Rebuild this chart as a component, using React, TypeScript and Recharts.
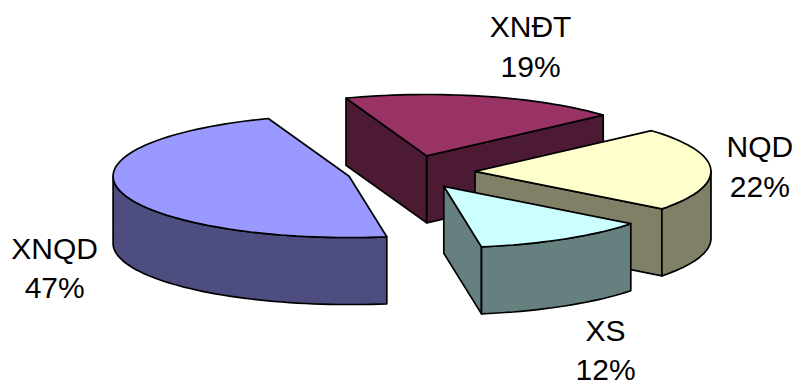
import { PieChart, Pie, Cell } from "recharts";

const names = ["XNĐT", "NQD", "XS", "XNQD"];
const shares = [19, 22, 12, 47];
const topColors = ["#993366", "#FFFFCC", "#CCFFFF", "#9999FF"];
const sideColors = ["#4D1A33", "#808066", "#668080", "#4D4D80"];
// nudge of each label from its slice's rim point at the mid angle
const labelShift = [[46, -59], [49, -12], [41, 102], [-66, 67]];

const data = names.map((name, i) => ({ name, value: shares[i] }));

const TILT = 0.26; // squash of the pie plane
const DEPTH = 67; // wall height
const EXPLODE = 64;
const RAD = Math.PI / 180;

type P = [number, number];

const rim = (x: number, y: number, r: number, deg: number, z = 0): P => [
  x + r * Math.cos(deg * RAD),
  y - TILT * r * Math.sin(deg * RAD) + z,
];

const toPath = (pts: P[]) =>
  pts.map((p, i) => `${i ? "L" : "M"}${p[0].toFixed(1)},${p[1].toFixed(1)}`).join("") + "Z";

const arcPts = (x: number, y: number, r: number, from: number, to: number, z: number): P[] => {
  const n = Math.max(2, Math.ceil(Math.abs(to - from) / 2));
  const out: P[] = [];
  for (let k = 0; k <= n; k++) out.push(rim(x, y, r, from + ((to - from) * k) / n, z));
  return out;
};

const indexOf = (props: any) => {
  const nm = props.name ?? props.payload?.name ?? props.payload?.payload?.name;
  const i = names.indexOf(nm);
  return i >= 0 ? i : props.index ?? 0;
};

function Slice3D(props: any) {
  const { cx, cy, outerRadius: r, startAngle, endAngle } = props;
  const i = indexOf(props);
  const a1 = Math.min(startAngle, endAngle);
  const a2 = Math.max(startAngle, endAngle);
  const m = props.midAngle ?? (a1 + a2) / 2;
  const ex = cx + EXPLODE * Math.cos(m * RAD);
  const ey = cy - TILT * EXPLODE * Math.sin(m * RAD);
  const side = sideColors[i];
  const faces: string[] = [];

  const cut = (a: number) =>
    toPath([[ex, ey], rim(ex, ey, r, a), rim(ex, ey, r, a, DEPTH), [ex, ey + DEPTH]]);
  if (Math.cos(a2 * RAD) < 0) faces.push(cut(a2));
  if (Math.cos(a1 * RAD) > 0) faces.push(cut(a1));

  for (let n = -2; n <= 1; n++) {
    const lo = Math.max(a1, 180 + 360 * n);
    const hi = Math.min(a2, 360 + 360 * n);
    if (hi > lo) {
      const topArc = arcPts(ex, ey, r, lo, hi, 0);
      const botArc = arcPts(ex, ey, r, hi, lo, DEPTH);
      faces.push(toPath([...topArc, ...botArc]));
    }
  }

  const top = toPath([[ex, ey], ...arcPts(ex, ey, r, a1, a2, 0)]);

  return (
    <g>
      {faces.map((d, k) => (
        <path key={k} d={d} fill={side} stroke="#000" strokeWidth={1.7} strokeLinejoin="round" />
      ))}
      <path d={top} fill={topColors[i]} stroke="#000" strokeWidth={1.7} strokeLinejoin="round" />
    </g>
  );
}

function renderLabel(props: any) {
  const { cx, cy, outerRadius: r, midAngle: m, value } = props;
  const i = indexOf(props);
  const ex = cx + EXPLODE * Math.cos(m * RAD);
  const ey = cy - TILT * EXPLODE * Math.sin(m * RAD);
  const [px, py] = rim(ex, ey, r, m);
  const x = px + labelShift[i][0];
  const y = py + labelShift[i][1];
  return (
    <text x={x} y={y} textAnchor="middle" fontSize={30} fontFamily="'Liberation Sans', Arial, sans-serif" fill="#000">
      <tspan x={x}>{names[i]}</tspan>
      <tspan x={x} dy={39.5}>{`${value}%`}</tspan>
    </text>
  );
}

export default function App() {
  return (
    <div style={{ position: "absolute", left: 0, top: 0, background: "#fff" }}>
      <PieChart width={800} height={385} margin={{ top: 0, right: 0, bottom: 0, left: 0 }}>
        <Pie
          data={data}
          dataKey="value"
          nameKey="name"
          cx={411}
          cy={172}
          outerRadius={236}
          startAngle={110}
          endAngle={-250}
          stroke="#000"
          shape={Slice3D}
          inactiveShape={Slice3D}
          activeShape={Slice3D}
          label={renderLabel}
          labelLine={false}
          isAnimationActive={false}
        >
          {data.map((d, i) => (
            <Cell key={d.name} fill={topColors[i]} />
          ))}
        </Pie>
      </PieChart>
    </div>
  );
}
